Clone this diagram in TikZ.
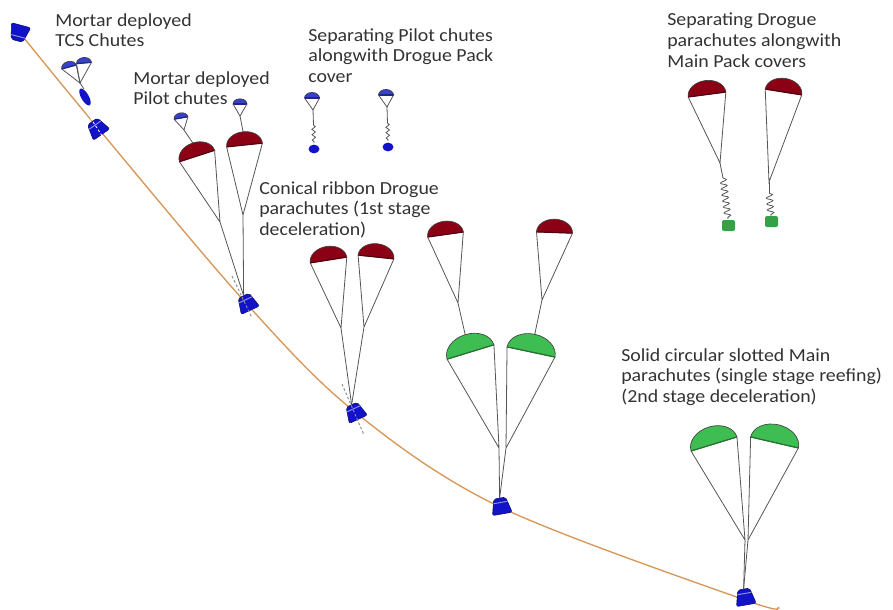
\documentclass[tikz,border=0pt]{standalone}
\usepackage{fontspec}
\setmainfont{Carlito}[FakeStretch=1.08]
\usepackage{tikz}
\usetikzlibrary{decorations.pathmorphing}

\definecolor{capblue}{RGB}{18,18,200}
\definecolor{pilotblue}{RGB}{55,65,205}
\definecolor{droguered}{RGB}{140,0,22}
\definecolor{maingreen}{RGB}{62,190,82}
\definecolor{pathtan}{RGB}{214,150,88}
\definecolor{rigline}{RGB}{85,85,85}

\tikzset{
  % dome canopy, bottom edge from (-l) to (-r), apex (-t)
  pics/canopy/.style={code={
    \filldraw[fill=#1, draw=black!75, line width=0.5pt]
      (-1,0) arc[start angle=180, end angle=360, x radius=1, y radius=0.74] -- cycle;
    \draw[#1!60!black, line width=0.9pt] (-1,0) -- (1,0);
    \coordinate (-l) at (-1,0);
    \coordinate (-r) at (1,0);
    \coordinate (-t) at (0,-0.74);
  }},
  % crew module, narrow end up
  pics/capsule/.style={code={
    \filldraw[fill=capblue, draw=capblue!55!black, line width=0.4pt, rounded corners=1.5pt]
      (-6,-8) -- (6,-8) -- (10,8) -- (-10,8) -- cycle;
    \draw[white, opacity=0.55, line width=0.7pt] (-7,-3.5) -- (7,-3.5);
    \coordinate (-top) at (0,-8);
  }},
  rig/.style={draw=rigline, line width=0.6pt},
  riser/.style={rig, decorate, decoration={snake, segment length=4.5, amplitude=2.4}},
  axisline/.style={draw=black!45, line width=0.7pt, dash pattern=on 2pt off 1.5pt},
  label/.style={anchor=north west, inner sep=0, align=left, text=black!80,
    font=\fontsize{13.8}{15.6}\selectfont},
}

\begin{document}
\begin{tikzpicture}[x=0.75pt, y=-0.75pt]
\useasboundingbox (0,0) rectangle (893,610);

% flight path
\draw[pathtan, line width=1pt] plot[smooth, tension=0.55] coordinates
  {(24,38) (97,127) (245,302) (355,412) (500,507) (745,600) (778,607)};

% labels
\node[label] (tcstext)   at (55,13)  {Mortar deployed\\TCS Chutes};
\node[label] (pilottext) at (133,71) {Mortar deployed\\Pilot chutes};
\node[label] (septext)   at (308,28) {Separating Pilot chutes\\alongwith Drogue Pack\\cover};
\node[label] (sepdtext)  at (667,13) {Separating Drogue\\parachutes alongwith\\Main Pack covers};
\node[label] (droguetext) at (259,181) {Conical ribbon Drogue\\parachutes (1st stage\\deceleration)};
\node[label] (maintext)  at (621,348) {Solid circular slotted Main\\parachutes (single stage reefing)\\(2nd stage deceleration)};

% --- mortar deployed TCS chutes
\pic[rotate=165] (capA) at (19,33) {capsule};
\pic[scale=7.5, rotate=15] (tcs1) at (69,67) {canopy=pilotblue};
\pic[scale=7.5, rotate=5] (tcs2) at (84,63) {canopy=pilotblue};
\coordinate (tcsc) at (80,83);
\draw[rig] (tcs1-l) -- (tcsc) -- (tcs1-r);
\draw[rig] (tcs2-l) -- (tcsc) -- (tcs2-r);
\fill[capblue] (85,97) ellipse[x radius=9.5, y radius=3.8, rotate=-60];
\draw[rig] (tcsc) -- (84,89);

% --- capsule after TCS
\pic[rotate=35] (capB) at (97,128) {capsule};
\draw[white, line width=0.6pt, dash pattern=on 2pt off 1.5pt] (88,114) -- (106,142);

% --- pilot chutes pulling out drogues
\pic[scale=18.5, rotate=18] (drA1) at (197,156) {canopy=droguered};
\pic[scale=18, rotate=6] (drA2) at (244.5,145) {canopy=droguered};
\pic[scale=7, rotate=10] (plA1) at (181,118) {canopy=pilotblue};
\pic[scale=7] (plA2) at (240,104) {canopy=pilotblue};
\coordinate (plAc1) at (184,130);
\coordinate (plAc2) at (240,116);
\draw[rig] (plA1-l) -- (plAc1) -- (plA1-r) (plAc1) -- (drA1-t);
\draw[rig] (plA2-l) -- (plAc2) -- (plA2-r) (plAc2) -- (drA2-t);
\pic[rotate=25] (capC) at (247,303) {capsule};
\coordinate (drAc1) at (220,222);
\coordinate (drAc2) at (243,215);
\draw[rig] (drA1-l) -- (drAc1) -- (drA1-r) (drAc1) -- (capC-top);
\draw[rig] (drA2-l) -- (drAc2) -- (drA2-r) (drAc2) -- (capC-top);
\draw[axisline] (232,276) -- (252,318);

% --- separated pilot chutes with drogue pack covers
\foreach \px/\py/\cy in {312/98/149, 386/95/147}{
  \pic[scale=7.5] (sp) at (\px,\py) {canopy=pilotblue};
  \coordinate (spc) at (\px+1,\py+12);
  \draw[rig] (sp-l) -- (spc) -- (sp-r);
  \draw[rig] (spc) -- (\px+1.5,\cy-24);
  \draw[rig, decorate, decoration={snake, segment length=4, amplitude=1.3}]
    (\px+1.5,\cy-24) -- (\px+2,\cy-6);
  \fill[capblue] (\px+2,\cy) ellipse[x radius=5.5, y radius=4.4];
}

% --- drogues inflated
\pic[scale=18.5, rotate=9] (drB1) at (328.5,260) {canopy=droguered};
\pic[scale=18, rotate=-6] (drB2) at (376,257) {canopy=droguered};
\pic[rotate=25] (capD) at (355,412) {capsule};
\coordinate (drBc1) at (341,328);
\coordinate (drBc2) at (364,327);
\draw[rig] (drB1-l) -- (drBc1) -- (drB1-r) (drBc1) -- (capD-top);
\draw[rig] (drB2-l) -- (drBc2) -- (drB2-r) (drBc2) -- (capD-top);
\draw[axisline] (342,384) -- (364,435);

% --- drogues pulling out mains
\pic[scale=18, rotate=8] (drC1) at (445.5,234.5) {canopy=droguered};
\pic[scale=18, rotate=-2] (drC2) at (554.5,232.5) {canopy=droguered};
\pic[scale=24.5, rotate=17] (mnA1) at (470.5,352) {canopy=maingreen};
\pic[scale=24.5, rotate=-12] (mnA2) at (531,352) {canopy=maingreen};
\coordinate (drCc1) at (458,303);
\coordinate (drCc2) at (542,300);
\draw[rig] (drC1-l) -- (drCc1) -- (drC1-r) (drCc1) -- (mnA1-t);
\draw[rig] (drC2-l) -- (drCc2) -- (drC2-r) (drCc2) -- (mnA2-t);
\pic[rotate=10] (capE) at (501,506) {capsule};
\coordinate (mnAc1) at (499,448);
\coordinate (mnAc2) at (506,448);
\draw[rig] (mnA1-l) -- (mnAc1) -- (mnA1-r) (mnAc1) -- (capE-top);
\draw[rig] (mnA2-l) -- (mnAc2) -- (mnA2-r) (mnAc2) -- (capE-top);

% --- separated drogues with main pack covers
\pic[scale=19, rotate=7.5] (drD1) at (707,94.5) {canopy=droguered};
\pic[scale=18.5, rotate=-9] (drD2) at (783.5,92) {canopy=droguered};
\coordinate (drDc1) at (720,163);
\coordinate (drDc2) at (769,182);
\draw[rig] (drD1-l) -- (drDc1) -- (drD1-r);
\draw[rig] (drD2-l) -- (drDc2) -- (drD2-r);
\draw[rig] (drDc1) -- (723,178);
\draw[rig] (drDc2) -- (769,193);
\draw[riser] (723,178) -- (728,219);
\draw[riser] (769,193) -- (771,216);
\fill[maingreen!85!black, rounded corners=1.5pt] (722,220) rectangle (735,231);
\fill[maingreen!85!black, rounded corners=1.5pt] (765,216) rectangle (778,227);

% --- mains at touchdown
\pic[scale=24, rotate=17] (mnB1) at (714,444) {canopy=maingreen};
\pic[scale=24.5, rotate=-13] (mnB2) at (774.5,442.5) {canopy=maingreen};
\pic[rotate=10] (capF) at (745,597) {capsule};
\coordinate (mnBc1) at (745,540);
\coordinate (mnBc2) at (748,540);
\draw[rig] (mnB1-l) -- (mnBc1) -- (mnB1-r) (mnBc1) -- (capF-top);
\draw[rig] (mnB2-l) -- (mnBc2) -- (mnB2-r) (mnBc2) -- (capF-top);
\end{tikzpicture}
\end{document}
